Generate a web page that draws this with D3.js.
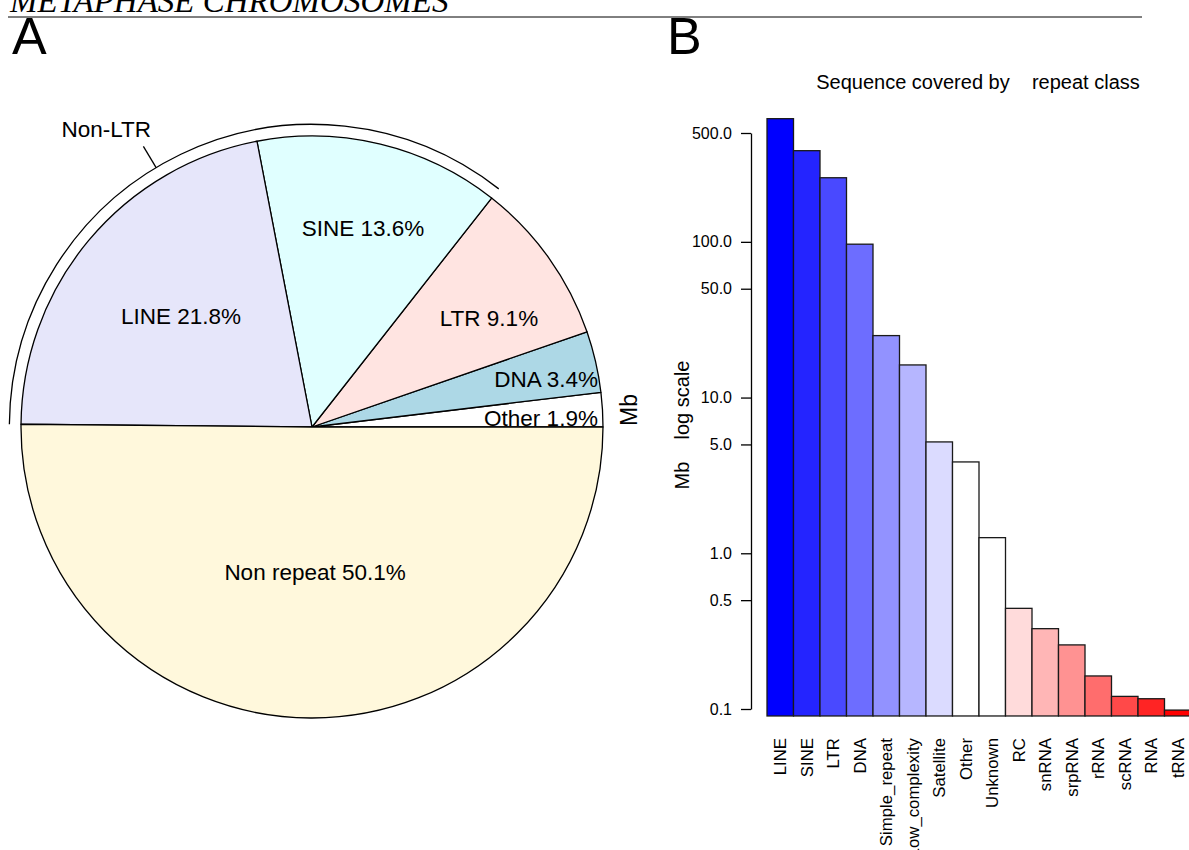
<!DOCTYPE html>
<html><head><meta charset="utf-8">
<script src="https://cdn.jsdelivr.net/npm/d3@7/dist/d3.min.js"></script>
<style>
html,body{margin:0;padding:0;background:#fff;}
svg{display:block;font-family:"Liberation Sans",Arial,sans-serif;}
text{white-space:pre;}
</style></head>
<body>
<svg id="c" width="1189" height="850"></svg>
<script>
// ---------- data ----------
const pieCategories = ["Other", "DNA", "LTR", "SINE", "LINE", "Non repeat"];
const piePercent    = [1.9, 3.4, 9.1, 13.6, 21.8, 50.1];
const pieColors     = ["#FFFFFF", "#ADD8E6", "#FFE4E1", "#E0FFFF", "#E6E6FA", "#FFF8DC"];
const groupLabel    = "Non-LTR";
const groupMembers  = ["SINE", "LINE"];

const barCategories = ["LINE","SINE","LTR","DNA","Simple_repeat","Low_complexity","Satellite","Other","Unknown","RC","snRNA","srpRNA","rRNA","scRNA","RNA","tRNA"];
const barValues     = [618, 385, 258, 96.6, 25.0, 16.2, 5.19, 3.86, 1.26, 0.443, 0.328, 0.258, 0.163, 0.1205, 0.1164, 0.0984];
const tickValues    = [500, 100, 50, 10, 5, 1, 0.5, 0.1];
const tickLabels    = ["500.0", "100.0", "50.0", "10.0", "5.0", "1.0", "0.5", "0.1"];

const pageTitle  = "METAPHASE CHROMOSOMES";
const barTitle   = "Sequence covered by    repeat class";
const barYLabel  = "Mb    log scale";

// ---------- layout / style ----------
const svg = d3.select("#c");
const deg = Math.PI / 180;

// page header
svg.append("text").attr("x", 10).attr("y", 12)
  .attr("font-family", "Liberation Serif, Times New Roman, serif")
  .attr("font-style", "italic").attr("font-size", 33).text(pageTitle);
svg.append("line").attr("x1", 8).attr("x2", 1142).attr("y1", 17).attr("y2", 17)
  .attr("stroke", "#000").attr("stroke-width", 1);
svg.append("text").attr("x", 12).attr("y", 54).attr("font-size", 52).text("A");
svg.append("text").attr("x", 667).attr("y", 54).attr("font-size", 52).text("B");

// ---------- Panel A: pie ----------
const cx = 312, cy = 427, R = 291;
const gA = svg.append("g").attr("transform", `translate(${cx},${cy})`);
// counter-clockwise from 3 o'clock (d3 angles are clockwise from 12 o'clock)
const pie = d3.pie().sort(null).value(d => d)
  .startAngle(Math.PI / 2).endAngle(Math.PI / 2 - 2 * Math.PI);
const arcs = pie(piePercent);
const arc = d3.arc().innerRadius(0).outerRadius(R);
gA.selectAll("path.slice").data(arcs).join("path")
  .attr("class", "slice")
  .attr("d", arc)
  .attr("fill", (d, i) => pieColors[i])
  .attr("stroke", "#000").attr("stroke-width", 1.3).attr("stroke-linejoin", "round");

// label placement (polar: degrees ccw from 3 o'clock, fraction of radius)
const labelPlace = [
  {ang: 1.8,   rf: 0.983, anchor: "end"},
  {ang: 9.5,   rf: 0.997, anchor: "end"},
  {ang: 31.6,  rf: 0.714, anchor: "middle"},
  {ang: 75.6,  rf: 0.706, anchor: "middle"},
  {ang: 139.7, rf: 0.59,  anchor: "middle"},
  {ang: 271.2, rf: 0.50,  anchor: "middle"}
];
gA.selectAll("text.pl").data(arcs).join("text")
  .attr("class", "pl")
  .attr("x", (d, i) => R * labelPlace[i].rf * Math.cos(labelPlace[i].ang * deg))
  .attr("y", (d, i) => -R * labelPlace[i].rf * Math.sin(labelPlace[i].ang * deg))
  .attr("dy", "0.35em")
  .attr("text-anchor", (d, i) => labelPlace[i].anchor)
  .attr("font-size", 22.5)
  .text((d, i) => `${pieCategories[i]} ${piePercent[i]}%`);

// Non-LTR grouping arc
const members = arcs.filter((d, i) => groupMembers.includes(pieCategories[i]));
const aStart = d3.max(members, d => d.startAngle);   // d3 angle
const aEnd   = d3.min(members, d => d.endAngle);
const gR = R * 1.04;
const toSvg = a => a - Math.PI / 2;                   // d3 angle -> svg angle
const gp = d3.path();
gp.arc(0, 0, gR, toSvg(aStart), toSvg(aEnd), true);
gA.append("path").attr("d", gp.toString()).attr("fill", "none")
  .attr("stroke", "#000").attr("stroke-width", 1.3);
const tAng = 121 * deg;
gA.append("line")
  .attr("x1", gR * Math.cos(tAng)).attr("y1", -gR * Math.sin(tAng))
  .attr("x2", R * 1.125 * Math.cos(tAng)).attr("y2", -R * 1.125 * Math.sin(tAng))
  .attr("stroke", "#000").attr("stroke-width", 1.3);
const lAng = 124.6 * deg;
gA.append("text")
  .attr("x", R * 1.245 * Math.cos(lAng)).attr("y", -R * 1.245 * Math.sin(lAng))
  .attr("dy", "0.35em").attr("text-anchor", "middle").attr("font-size", 22.5)
  .text(groupLabel);

// stray "Mb" label beside the pie
svg.append("text").attr("transform", "translate(637,410) rotate(-90)")
  .attr("text-anchor", "middle").attr("font-size", 23).text("Mb");

// ---------- Panel B: log bar chart ----------
const x = d3.scaleBand().domain(barCategories).range([767, 767 + 16 * 26.5]).padding(0);
const y = d3.scaleLog().domain([0.1, 500]).range([709, 133]);
const yBase = y(0.0902);

const gB = svg.append("g");
gB.selectAll("rect.bar").data(barValues).join("rect")
  .attr("class", "bar")
  .attr("x", (d, i) => x(barCategories[i]))
  .attr("width", x.bandwidth())
  .attr("y", d => y(d))
  .attr("height", d => yBase - y(d))
  .attr("fill", (d, i) => {
    const n = barCategories.length / 2;
    return i < n ? d3.interpolateRgb("#0000FF", "#FFFFFF")(i / (n - 1))
                 : d3.interpolateRgb("#FFFFFF", "#FF0000")((i - n) / (n - 1));
  })
  .attr("stroke", "#1a1a1a").attr("stroke-width", 1.3);

const yAxis = d3.axisLeft(y).tickValues(tickValues)
  .tickFormat((d, i) => tickLabels[i]).tickSize(10).tickPadding(9).tickSizeOuter(0);
const ga = svg.append("g").attr("transform", "translate(751,0)").call(yAxis);
ga.select(".domain").attr("stroke", "#000").attr("stroke-width", 1.3);
ga.selectAll(".tick line").attr("stroke", "#000").attr("stroke-width", 1.3);
ga.selectAll(".tick text").attr("font-size", 16).attr("fill", "#000")
  .attr("font-family", "Liberation Sans, Arial, sans-serif");

// x labels (rotated)
gB.selectAll("text.xl").data(barCategories).join("text")
  .attr("class", "xl")
  .attr("transform", d => `translate(${x(d) + x.bandwidth() / 2},738) rotate(-90)`)
  .attr("text-anchor", "end").attr("dy", "0.35em").attr("font-size", 16.8)
  .text(d => d);

svg.append("text").attr("x", 978).attr("y", 89).attr("text-anchor", "middle")
  .attr("font-size", 20).text(barTitle);
svg.append("text").attr("transform", "translate(689,425) rotate(-90)")
  .attr("text-anchor", "middle").attr("font-size", 20).text(barYLabel);
</script>
</body></html>
